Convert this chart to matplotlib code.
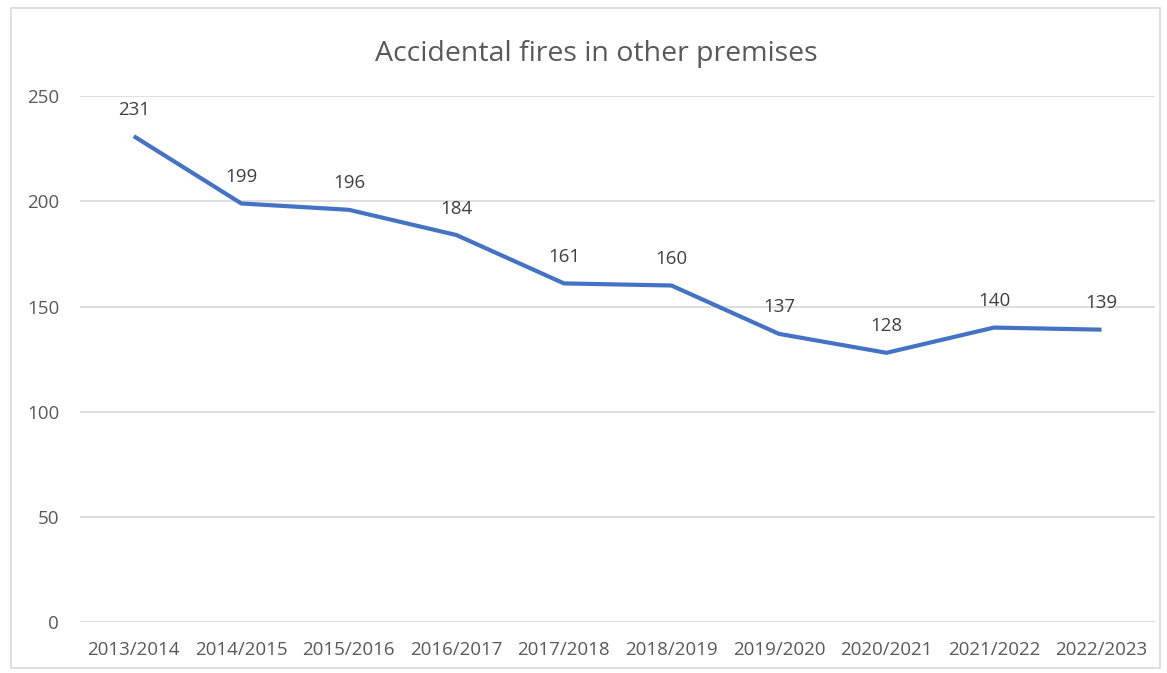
"""Line chart of accidental fires in other premises by financial year."""

import matplotlib.pyplot as plt
from matplotlib.patches import Rectangle

years = ["2013/2014", "2014/2015", "2015/2016", "2016/2017", "2017/2018",
         "2018/2019", "2019/2020", "2020/2021", "2021/2022", "2022/2023"]
fires = [231, 199, 196, 184, 161, 160, 137, 128, 140, 139]
y_ticks = [0, 50, 100, 150, 200, 250]

plt.rcParams["font.family"] = ["Open Sans", "DejaVu Sans"]
text_color = "#595959"
grid_color = "#d9d9d9"

fig = plt.figure(figsize=(11.67, 6.73), dpi=100)
ax = fig.add_axes([0.0686, 0.0758, 0.9214, 0.7812])

x = list(range(len(years)))
ax.plot(x, fires, color="#4472c4", linewidth=3.0, solid_capstyle="butt",
        solid_joinstyle="round", zorder=3)
for xi, v in zip(x, fires):
    ax.annotate(str(v), (xi, v), xytext=(0, 19), textcoords="offset points",
                ha="center", va="center", fontsize=13.5, color="#404040")

ax.set_xlim(-0.5, len(years) - 0.5)
ax.set_ylim(0, 250)
ax.set_yticks(y_ticks)
ax.set_xticks(x)
ax.set_xticklabels(years)
ax.tick_params(axis="both", length=0, labelsize=13.5, labelcolor=text_color)
ax.tick_params(axis="y", pad=15)
ax.tick_params(axis="x", pad=14)
ax.grid(axis="y", color=grid_color, linewidth=1.2)
ax.set_axisbelow(True)
for side in ax.spines.values():
    side.set_visible(False)

fig.text(0.511, 0.92, "Accidental fires in other premises", ha="center",
         va="center", fontsize=20.5, color=text_color)

# thin frame round the whole chart
fig.patches.append(Rectangle((0.009, 0.007), 0.985, 0.981,
                             transform=fig.transFigure, fill=False,
                             edgecolor=grid_color, linewidth=1.2))

fig.savefig("out.png", dpi=100)
